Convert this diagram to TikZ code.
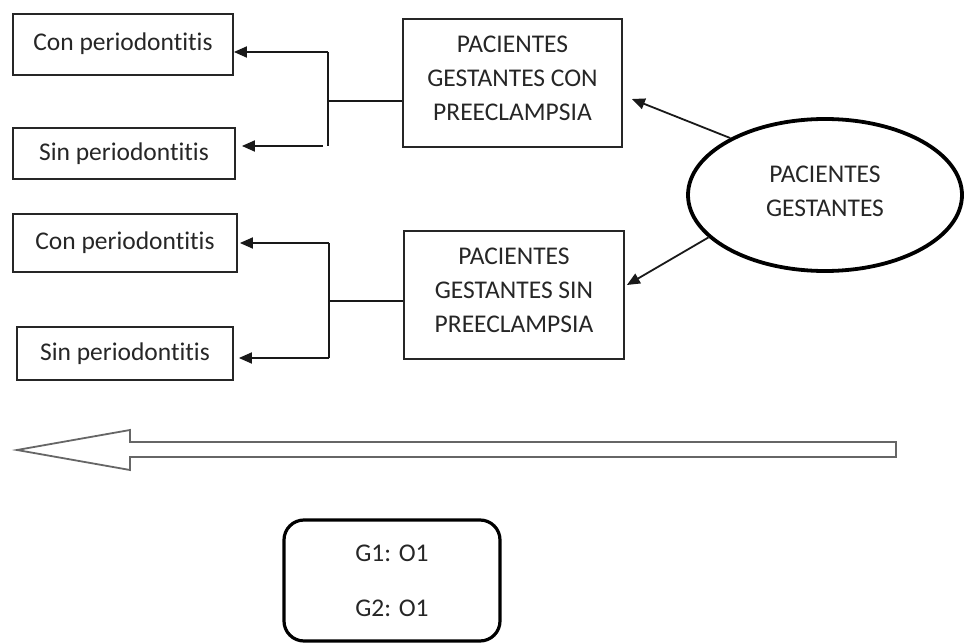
\documentclass[tikz,border=0pt]{standalone}
\usepackage{fontspec}
\setmainfont[Ligatures=NoCommon]{Carlito}
\usetikzlibrary{arrows.meta,shapes.geometric}
\newcommand{\mydepth}[1]{\rule[-#1]{0pt}{0pt}}
\begin{document}
\begin{tikzpicture}[x=1pt,y=-1pt,
  txt/.style={text=black!85,font=\fontsize{25.5}{34}\selectfont,align=center},
  sbox/.style={txt,draw=black!85,line width=1.8pt,rectangle,inner sep=0pt},
  conn/.style={draw=black!90,line width=1.8pt},
  arr/.style={conn,-{Triangle[length=13pt,width=11pt]}}]
\useasboundingbox (0,0) rectangle (964,644);
% left boxes
\node[sbox,minimum width=220pt,minimum height=61pt] (c1) at (123,44.5) {Con periodontitis\mydepth{6pt}};
\node[sbox,minimum width=222pt,minimum height=51pt] (s1) at (124,153.5) {Sin periodontitis};
\node[sbox,minimum width=224pt,minimum height=58pt] (c2) at (125,243) {Con periodontitis\mydepth{4pt}};
\node[sbox,minimum width=216pt,minimum height=53pt] (s2) at (125,353.5) {Sin periodontitis};
% middle boxes
\node[sbox,minimum width=219pt,minimum height=128pt] (pcp) at (512.5,83) {PACIENTES\\GESTANTES CON\\PREECLAMPSIA\mydepth{10pt}};
\node[sbox,minimum width=220pt,minimum height=128pt] (psp) at (514,295) {PACIENTES\\GESTANTES SIN\\PREECLAMPSIA\mydepth{10pt}};
% ellipse
\node[txt,ellipse,draw=black,line width=3.8pt,minimum width=274pt,minimum height=152pt,inner sep=0pt] (el) at (825,195) {PACIENTES\\GESTANTES\mydepth{8pt}};
% top group connectors
\coordinate (j1) at (328,101);
\coordinate (a1) at (328,52);
\coordinate (b1) at (328,146);
\draw[conn] (pcp.west |- j1) -- (j1);
\draw[conn] (a1) -- (b1);
\draw[arr] (a1) -- (a1 -| c1.east);
\draw[arr,shorten >=6pt] ([xshift=-5pt]b1) -- (b1 -| s1.east);
% lower group connectors
\coordinate (j2) at (329,301);
\coordinate (a2) at (329,243);
\coordinate (b2) at (329,358);
\draw[conn] (psp.west |- j2) -- (j2);
\draw[conn] (a2) -- (b2);
\draw[arr,shorten >=2pt] (a2) -- (a2 -| c2.east);
\draw[arr,shorten >=5pt] (b2) -- (b2 -| s2.east);
% ellipse arrows
\draw[arr] (el.149) -- ([xshift=9pt,yshift=-16pt]pcp.east);
\draw[arr] (el.200) -- ([xshift=2pt,yshift=10pt]psp.east);
% block arrow
\draw[draw=black!60,line width=1.8pt,line join=miter] (896,442) -- (130,442) -- (130,430) -- (17,450) -- (130,470) -- (130,457) -- (896,457) -- cycle;
% legend box
\node[txt,font=\fontsize{25.5}{55}\selectfont,draw=black,line width=3.2pt,rounded corners=20pt,minimum width=216pt,minimum height=121pt,inner sep=0pt] (g) at (392,580.5) {G1: O1\\G2: O1};
\end{tikzpicture}
\end{document}
